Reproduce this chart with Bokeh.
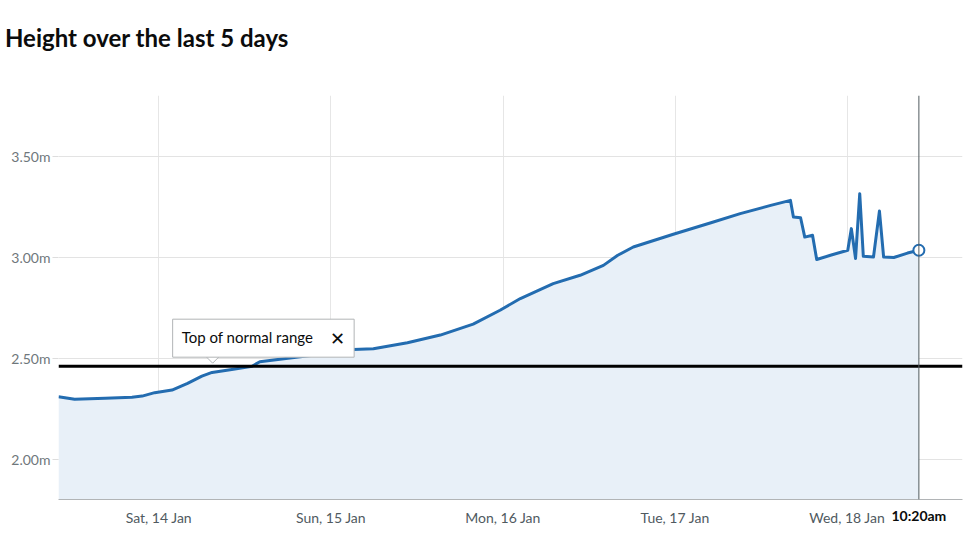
import pandas as pd
from bokeh.plotting import figure
from bokeh.layouts import column
from bokeh.models import (Range1d, FixedTicker, PrintfTickFormatter, Span, Label,
                          ColumnDataSource, DatetimeAxis, Div)
from bokeh.embed import file_html
from bokeh.resources import INLINE

# ---- data ----
title_text = "Height over the last 5 days"
reading_times = [
    "2023-01-13 10:00", "2023-01-13 12:15", "2023-01-13 16:30", "2023-01-13 20:15",
    "2023-01-13 21:40", "2023-01-13 23:25", "2023-01-14 01:50", "2023-01-14 04:00",
    "2023-01-14 06:00", "2023-01-14 07:25", "2023-01-14 10:10", "2023-01-14 13:00",
    "2023-01-14 14:05", "2023-01-14 18:00", "2023-01-14 21:45", "2023-01-15 03:05",
    "2023-01-15 05:55", "2023-01-15 10:40", "2023-01-15 15:15", "2023-01-15 19:50",
    "2023-01-15 23:35", "2023-01-16 02:25", "2023-01-16 07:00", "2023-01-16 10:45",
    "2023-01-16 14:00", "2023-01-16 16:00", "2023-01-16 18:10", "2023-01-16 23:45",
    "2023-01-17 05:00", "2023-01-17 09:05", "2023-01-17 13:20", "2023-01-17 16:05",
    "2023-01-17 16:30", "2023-01-17 17:30", "2023-01-17 18:05", "2023-01-17 19:10",
    "2023-01-17 19:45", "2023-01-17 21:40", "2023-01-18 00:05", "2023-01-18 00:35",
    "2023-01-18 01:10", "2023-01-18 01:45", "2023-01-18 02:15", "2023-01-18 03:40",
    "2023-01-18 04:30", "2023-01-18 05:05", "2023-01-18 06:30", "2023-01-18 08:25",
    "2023-01-18 10:00",
]
heights_m = [
    2.309, 2.296, 2.301, 2.306,
    2.312, 2.329, 2.342, 2.375,
    2.411, 2.429, 2.444, 2.460,
    2.482, 2.499, 2.515, 2.543,
    2.546, 2.576, 2.614, 2.668,
    2.737, 2.795, 2.869, 2.910,
    2.959, 3.009, 3.050, 3.113,
    3.170, 3.215, 3.256, 3.281,
    3.198, 3.195, 3.099, 3.108,
    2.988, 3.009, 3.034, 3.141,
    2.993, 3.314, 3.004, 3.000,
    3.228, 3.000, 2.998, 3.020,
    3.034,
]
normal_range_top = 2.46
normal_range_label = "Top of normal range"
day_ticks = ["2023-01-14", "2023-01-15", "2023-01-16", "2023-01-17", "2023-01-18"]
day_labels = ["Sat, 14 Jan", "Sun, 15 Jan", "Mon, 16 Jan", "Tue, 17 Jan", "Wed, 18 Jan"]
y_ticks = [2.0, 2.5, 3.0, 3.5]
latest_label = "10:20am"
x_start, x_end = "2023-01-13 10:00", "2023-01-18 16:05"
y_start, y_end = 1.80, 3.80
tooltip_anchor_time = "2023-01-14 07:30"


def ms(t):
    return pd.Timestamp(t).value / 1e6


t_ms = [ms(t) for t in reading_times]
src = ColumnDataSource(dict(t=t_ms, h=heights_m))

FONT = "Lato"
TITLE_H = 70
W, H = 968, 461
BL, BR, BT, BB = 58, 6, 15, 42

title = Div(text=title_text, width=W, height=TITLE_H,
            styles={"font-family": FONT, "font-size": "24px", "font-weight": "bold",
                    "color": "#0b0c0c", "line-height": "66px",
                    "padding-left": "0px", "white-space": "nowrap"})

p = figure(width=W, height=H, x_axis_type="datetime", output_backend="svg",
           toolbar_location=None,
           x_range=Range1d(ms(x_start), ms(x_end)), y_range=Range1d(y_start, y_end),
           min_border_left=BL, min_border_right=BR, min_border_top=BT, min_border_bottom=BB)
p.outline_line_color = None
p.background_fill_color = "white"
p.border_fill_color = "white"

# axes
day_ticker = FixedTicker(ticks=[ms(d) for d in day_ticks])
p.xaxis.ticker = day_ticker
p.xaxis.major_label_overrides = {ms(d): lab for d, lab in zip(day_ticks, day_labels)}
p.xaxis.axis_line_color = "#b1b4b6"
p.xaxis.major_tick_line_color = None
p.xaxis.major_tick_out = 0
p.xaxis.major_tick_in = 0
p.xaxis.minor_tick_line_color = None
p.xaxis.major_label_standoff = 9
p.xaxis.major_label_text_font = FONT
p.xaxis.major_label_text_font_size = "14px"
p.xaxis.major_label_text_color = "#505a5f"
p.xgrid.ticker = day_ticker

# bold time of the latest reading, pulled up onto the line of the day labels
latest_axis = DatetimeAxis(ticker=FixedTicker(ticks=[t_ms[-1]]),
                           major_label_overrides={t_ms[-1]: latest_label},
                           axis_line_color=None, major_tick_line_color=None,
                           major_tick_out=0, major_tick_in=0,
                           minor_tick_line_color=None, major_label_standoff=-22,
                           major_label_text_font=FONT, major_label_text_font_size="14px",
                           major_label_text_font_style="bold",
                           major_label_text_color="#0b0c0c")
p.add_layout(latest_axis, "below")

p.yaxis.ticker = FixedTicker(ticks=y_ticks)
p.yaxis.formatter = PrintfTickFormatter(format="%.2fm")
p.yaxis.axis_line_color = None
p.yaxis.major_tick_line_color = "#dddddd"
p.yaxis.major_tick_out = 6
p.yaxis.major_tick_in = 0
p.yaxis.minor_tick_line_color = None
p.yaxis.major_label_standoff = 2
p.yaxis.major_label_text_font = FONT
p.yaxis.major_label_text_font_size = "14px"
p.yaxis.major_label_text_color = "#6f777b"

p.xgrid.grid_line_color = "#e6e6e6"
p.ygrid.grid_line_color = "#e3e3e3"

# area + line
p.varea(x="t", y1=y_start, y2="h", source=src, fill_color="#e8f0f8", fill_alpha=1)
p.line(x="t", y="h", source=src, line_color="#236cb0", line_width=3, line_join="round")

# threshold
p.add_layout(Span(location=normal_range_top, dimension="width", line_color="black", line_width=3))

# latest reading line
p.add_layout(Span(location=t_ms[-1], dimension="height", line_color="#505a5f", line_width=1))
p.scatter(x=[t_ms[-1]], y=[heights_m[-1]], size=11, fill_color="white",
          line_color="#236cb0", line_width=2)

# tooltip pointer (screen-pixel sized, converted through frame size)
frame_w = W - BL - BR
frame_h = H - BT - BB
ms_per_px = (ms(x_end) - ms(x_start)) / frame_w
m_per_px = (y_end - y_start) / frame_h
ax = ms(tooltip_anchor_time)
p.patch(x=[ax - 8 * ms_per_px, ax, ax + 8 * ms_per_px],
        y=[normal_range_top + 11 * m_per_px, normal_range_top + 3 * m_per_px,
           normal_range_top + 11 * m_per_px],
        fill_color="white", line_color="#b1b4b6", line_width=1)

p.add_layout(Label(x=ax, y=normal_range_top, x_offset=-40, y_offset=28,
                   text=normal_range_label, text_font=FONT, text_font_size="15px",
                   text_color="#0b0c0c", text_baseline="middle", text_align="left",
                   background_fill_color="white", border_line_color="#b1b4b6",
                   border_line_width=1, padding=(9, 41, 9, 11)))
p.add_layout(Label(x=ax, y=normal_range_top, x_offset=125, y_offset=28, text="✕",
                   text_font="DejaVu Sans", text_font_size="18px", text_font_style="bold",
                   text_color="#0b0c0c", text_baseline="middle", text_align="center"))

layout = column(title, p, spacing=0)
open("out.html", "w").write(file_html(layout, INLINE))
